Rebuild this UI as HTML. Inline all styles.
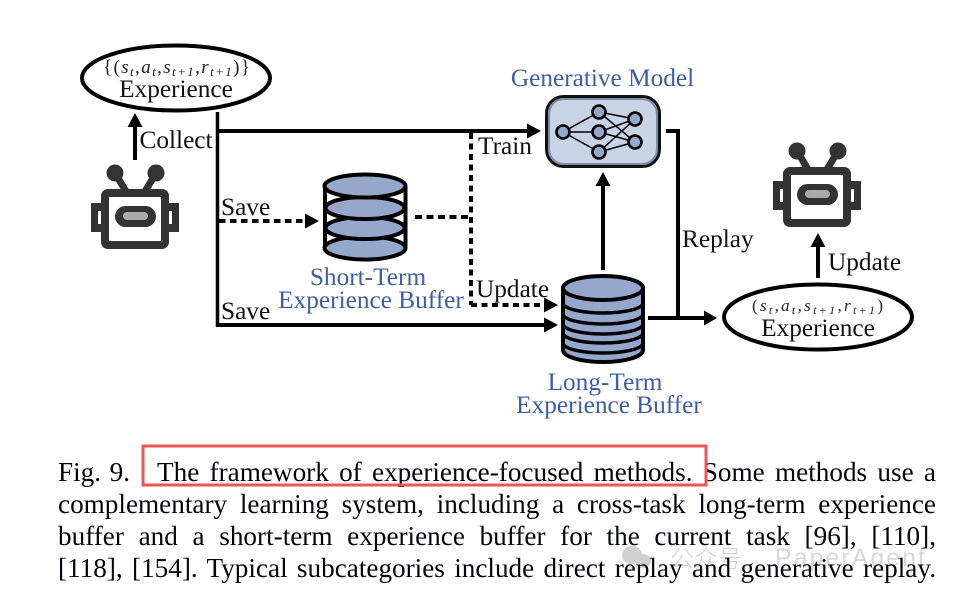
<!DOCTYPE html>
<html><head><meta charset="utf-8">
<style>
html,body{margin:0;padding:0;background:#fff;width:953px;height:602px;overflow:hidden}
#wrap{position:relative;width:953px;height:602px}
svg{position:absolute;left:0;top:0}
.cap{position:absolute;left:58px;width:878px;font:27.2px/32px "Liberation Serif",serif;color:#050510;text-align:justify;text-align-last:justify;white-space:nowrap}
.t{font-family:"Liberation Serif",serif;font-size:25.3px;fill:#111}
.b{font-family:"Liberation Serif",serif;font-size:25.3px;fill:#3c5ea9}
.f{font-family:"Liberation Serif",serif;font-size:19px;fill:#222}
.f tspan.i{font-style:italic}
.f tspan.s{font-size:13px;font-style:italic}
</style></head><body><div id="wrap">
<svg width="953" height="602" viewBox="0 0 953 602" xmlns="http://www.w3.org/2000/svg">
<defs>
<g id="robot">
<line x1="115" y1="173" x2="127" y2="193" stroke="#333" stroke-width="7"/>
<line x1="156" y1="173" x2="144" y2="193" stroke="#333" stroke-width="7"/>
<circle cx="115" cy="173" r="8.5" fill="#333"/>
<circle cx="156" cy="173" r="8.5" fill="#333"/>
<rect x="91" y="203" width="13" height="29" fill="#333"/>
<rect x="166" y="203" width="13" height="29" fill="#333"/>
<rect x="98" y="211" width="3" height="13" fill="#fff"/>
<rect x="169" y="211" width="3" height="13" fill="#fff"/>
<rect x="105" y="193" width="60" height="52" rx="3" fill="#fff" stroke="#333" stroke-width="8"/>
<rect x="115" y="206" width="41" height="21" rx="10.5" fill="#333"/>
<rect x="123" y="212" width="25" height="8" rx="4" fill="#aaa"/>
</g>
</defs>

<!-- watermark -->
<g fill="#d0d0d0">
<ellipse cx="632" cy="555" rx="10" ry="9"/>
<ellipse cx="643" cy="561" rx="8" ry="7"/>
</g>
<text x="670" y="567" font-family="'Noto Sans CJK SC',sans-serif" font-size="24" font-weight="300" fill="#d2d2d2">公众号</text>
<text x="775" y="566" font-family="'Liberation Sans',sans-serif" font-size="25" fill="#d8d8d8" textLength="150">PaperAgent</text>

<!-- top ellipse -->
<ellipse cx="176" cy="78" rx="94" ry="32.5" fill="#fff" stroke="#000" stroke-width="4"/>
<text class="f" x="103" y="73" textLength="147"><tspan>{(</tspan><tspan class="i">s</tspan><tspan class="s" dy="3">t</tspan><tspan dy="-3">,</tspan><tspan class="i">a</tspan><tspan class="s" dy="3">t</tspan><tspan dy="-3">,</tspan><tspan class="i">s</tspan><tspan class="s" dy="3">t+1</tspan><tspan dy="-3">,</tspan><tspan class="i">r</tspan><tspan class="s" dy="3">t+1</tspan><tspan dy="-3">)}</tspan></text>
<text class="t" x="176" y="97" text-anchor="middle">Experience</text>

<!-- collect arrow -->
<line x1="135" y1="160" x2="135" y2="125" stroke="#000" stroke-width="4"/>
<polygon points="135,113 142.5,127 127.5,127" fill="#000"/>
<text class="t" x="139.5" y="148">Collect</text>
<use href="#robot"/>
<use href="#robot" x="682" y="-22"/>

<!-- main lines -->
<line x1="217.5" y1="112" x2="217.5" y2="327" stroke="#000" stroke-width="3.5"/>
<line x1="217" y1="131" x2="530" y2="131" stroke="#000" stroke-width="4"/>
<polygon points="541,131 527,123.5 527,138.5" fill="#000"/>
<line x1="216" y1="325" x2="547" y2="325" stroke="#000" stroke-width="4"/>
<polygon points="558,325 544,317.5 544,332.5" fill="#000"/>

<!-- dashed -->
<line x1="219" y1="221" x2="306" y2="221" stroke="#000" stroke-width="4" stroke-dasharray="6.5 4.5"/>
<polygon points="319,221 305,213.5 305,228.5" fill="#000"/>
<line x1="415" y1="217" x2="471" y2="217" stroke="#000" stroke-width="4" stroke-dasharray="7 4.5"/>
<line x1="471" y1="133" x2="471" y2="305" stroke="#000" stroke-width="4" stroke-dasharray="6 4.5"/>
<line x1="471" y1="305" x2="546" y2="305" stroke="#000" stroke-width="4" stroke-dasharray="6 4.5"/>
<polygon points="558,305 544,297.5 544,312.5" fill="#000"/>

<!-- short buffer -->
<rect x="324" y="186" width="82" height="62" fill="#fff"/>
<line x1="325" y1="186" x2="325" y2="249" stroke="#000" stroke-width="4"/>
<line x1="405.5" y1="186" x2="405.5" y2="249" stroke="#000" stroke-width="4"/>
<g fill="#95a8cb" stroke="#000" stroke-width="4">
<ellipse cx="365" cy="248" rx="40.5" ry="11.5"/>
<ellipse cx="365" cy="228" rx="39.5" ry="11"/>
<ellipse cx="365" cy="208" rx="39.5" ry="11"/>
<ellipse cx="365" cy="186" rx="40.5" ry="11.5"/>
</g>
<text class="b" x="368" y="285" text-anchor="middle">Short-Term</text>
<text class="b" x="371" y="308" text-anchor="middle">Experience Buffer</text>

<!-- long buffer -->
<path d="M563 288V350A40 12 0 0 0 643 350V288Z" fill="#95a8cb" stroke="#000" stroke-width="4"/>
<g fill="none" stroke="#000" stroke-width="3.4">
<path d="M563 303A40 10 0 0 0 643 303"/>
<path d="M563 314A40 10 0 0 0 643 314"/>
<path d="M563 324A40 10 0 0 0 643 324"/>
<path d="M563 333A40 10 0 0 0 643 333"/>
<path d="M563 343A40 10 0 0 0 643 343"/>
</g>
<ellipse cx="603" cy="288" rx="40" ry="12" fill="#95a8cb" stroke="#000" stroke-width="4"/>
<text class="b" x="605" y="390" text-anchor="middle">Long-Term</text>
<text class="b" x="609" y="413" text-anchor="middle">Experience Buffer</text>

<!-- generative model -->
<text class="b" x="602.5" y="86" text-anchor="middle">Generative Model</text>
<rect x="546.5" y="96.5" width="113" height="70" rx="17" fill="#c9d3e6" stroke="#111" stroke-width="3"/>
<rect x="549" y="99" width="108" height="65" rx="15" fill="none" stroke="#7f8ba3" stroke-width="2"/>
<g stroke="#000" stroke-width="1.5">
<line x1="563" y1="132" x2="599" y2="112"/><line x1="563" y1="132" x2="599" y2="132"/><line x1="563" y1="132" x2="599" y2="152"/>
<line x1="599" y1="112" x2="635" y2="119"/><line x1="599" y1="112" x2="635" y2="142"/>
<line x1="599" y1="132" x2="635" y2="119"/><line x1="599" y1="132" x2="635" y2="142"/>
<line x1="599" y1="152" x2="635" y2="119"/><line x1="599" y1="152" x2="635" y2="142"/>
</g>
<g fill="#95a8cb" stroke="#000" stroke-width="2.6">
<circle cx="563" cy="132" r="6.5"/>
<circle cx="599" cy="112" r="6.5"/><circle cx="599" cy="132" r="6.5"/><circle cx="599" cy="152" r="6.5"/>
<circle cx="635" cy="119" r="6.5"/><circle cx="635" cy="142" r="6.5"/>
</g>
<text class="t" x="478" y="154">Train</text>
<text class="t" x="221" y="215">Save</text>
<text class="t" x="221" y="319">Save</text>
<text class="t" x="476" y="297">Update</text>

<!-- arrow long to generative -->
<line x1="603" y1="270" x2="603" y2="184" stroke="#000" stroke-width="4"/>
<polygon points="603,172 610.5,186 595.5,186" fill="#000"/>

<!-- replay -->
<polyline points="666,131 678,131 678,318" fill="none" stroke="#000" stroke-width="4"/>
<line x1="648" y1="318" x2="706" y2="318" stroke="#000" stroke-width="4"/>
<polygon points="717,318 704,310.5 704,325.5" fill="#000"/>
<text class="t" x="682" y="247">Replay</text>

<!-- bottom ellipse -->
<ellipse cx="818" cy="317" rx="94" ry="32.5" fill="#fff" stroke="#000" stroke-width="4"/>
<text class="f" x="752" y="311" textLength="131" style="font-size:17px"><tspan>(</tspan><tspan class="i">s</tspan><tspan class="s" dy="3" style="font-size:12px">t</tspan><tspan dy="-3">,</tspan><tspan class="i">a</tspan><tspan class="s" dy="3" style="font-size:12px">t</tspan><tspan dy="-3">,</tspan><tspan class="i">s</tspan><tspan class="s" dy="3" style="font-size:12px">t+1</tspan><tspan dy="-3">,</tspan><tspan class="i">r</tspan><tspan class="s" dy="3" style="font-size:12px">t+1</tspan><tspan dy="-3">)</tspan></text>
<text class="t" x="818" y="336" text-anchor="middle">Experience</text>

<!-- update arrow -->
<line x1="818" y1="278" x2="818" y2="245" stroke="#000" stroke-width="4"/>
<polygon points="818,233 825.5,247 810.5,247" fill="#000"/>
<text class="t" x="828" y="270">Update</text>
</svg>

<div class="cap" style="top:456px;width:72px">Fig. 9.</div>
<div class="cap" style="top:456px;left:157px;width:779px">The framework of experience-focused methods. Some methods use a</div>
<div class="cap" style="top:488px">complementary learning system, including a cross-task long-term experience</div>
<div class="cap" style="top:520px">buffer and a short-term experience buffer for the current task [96], [110],</div>
<div class="cap" style="top:552px">[118], [154]. Typical subcategories include direct replay and generative replay.</div>

<svg width="953" height="602" viewBox="0 0 953 602" xmlns="http://www.w3.org/2000/svg">
<rect x="143" y="446" width="563" height="39" fill="none" stroke="#ee5555" stroke-width="3"/>
</svg>
</div></body></html>
